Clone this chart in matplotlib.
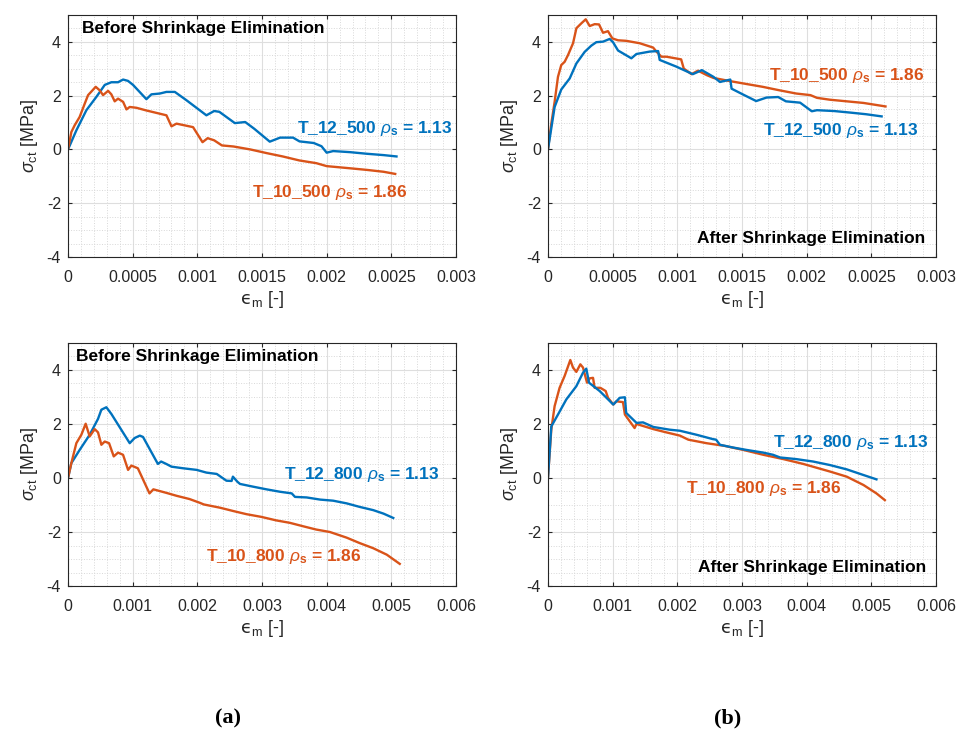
import numpy as np
import matplotlib
matplotlib.use('Agg')
import matplotlib.pyplot as plt
from matplotlib.ticker import MultipleLocator

plt.rcParams['font.family'] = ['Liberation Sans', 'DejaVu Sans']
plt.rcParams['mathtext.fontset'] = 'custom'
plt.rcParams['mathtext.rm'] = 'Liberation Sans'
plt.rcParams['mathtext.it'] = 'Liberation Sans:italic'
plt.rcParams['mathtext.bf'] = 'Liberation Sans:bold'
plt.rcParams['mathtext.sf'] = 'DejaVu Sans'
plt.rcParams['mathtext.fallback'] = 'stixsans'

BLUE = '#0072BD'
ORANGE = '#D95319'

# (a) top: before shrinkage elimination, 500 series
a500_blue_x = [0, 0.0000645, 0.000142, 0.00022, 0.000284, 0.000335, 0.000387, 0.000426, 0.000464,
               0.000503, 0.000606, 0.000645, 0.00071, 0.000761, 0.000826, 0.000916, 0.00107, 0.00113,
               0.00117, 0.00129, 0.00137, 0.00144, 0.00156, 0.00164, 0.00174, 0.00179, 0.0019,
               0.00196, 0.002, 0.00205, 0.00218, 0.00231, 0.00244, 0.00254]
a500_blue_y = [0, 0.71, 1.46, 1.96, 2.4, 2.5, 2.5, 2.6, 2.55, 2.4, 1.87, 2.05, 2.08, 2.14, 2.14, 1.83,
               1.27, 1.43, 1.4, 0.98, 1.02, 0.77, 0.29, 0.44, 0.44, 0.3, 0.24, 0.12, -0.12, -0.06,
               -0.1, -0.16, -0.21, -0.26]
a500_orange_x = [0, 0.000026, 0.0000516, 0.00009, 0.000129, 0.000155, 0.00018, 0.000214, 0.000245,
                 0.000271, 0.00031, 0.000335, 0.000361, 0.000387, 0.000426, 0.000452, 0.000477,
                 0.000529, 0.000606, 0.000761, 0.0008, 0.000839, 0.000967, 0.00104, 0.00108, 0.00113,
                 0.00119, 0.00128, 0.00141, 0.00154, 0.00166, 0.00179, 0.00192, 0.002, 0.00218,
                 0.00231, 0.00244, 0.00253]
a500_orange_y = [0, 0.65, 0.9, 1.21, 1.7, 2.02, 2.15, 2.33, 2.2, 2.02, 2.18, 2.05, 1.79, 1.89, 1.77,
                 1.49, 1.58, 1.55, 1.45, 1.27, 0.86, 0.96, 0.83, 0.27, 0.42, 0.34, 0.15, 0.11, 0.0,
                 -0.14, -0.26, -0.41, -0.51, -0.62, -0.7, -0.76, -0.83, -0.91]

# (b) top: after shrinkage elimination, 500 series
b500_orange_x = [0, 0.000026, 0.0000516, 0.0000774, 0.000103, 0.000129, 0.000155, 0.000194, 0.00022,
                 0.000258, 0.000292, 0.000323, 0.000361, 0.000395, 0.000426, 0.000464, 0.000498,
                 0.000542, 0.000606, 0.00071, 0.000813, 0.000839, 0.000877, 0.000916, 0.00103,
                 0.00105, 0.00111, 0.00116, 0.00123, 0.00128, 0.00141, 0.00154, 0.00166, 0.00179,
                 0.00192, 0.00203, 0.00208, 0.00218, 0.00231, 0.00244, 0.00261]
b500_orange_y = [0, 0.96, 1.77, 2.7, 3.14, 3.26, 3.51, 3.95, 4.51, 4.69, 4.84, 4.59, 4.66, 4.65, 4.34,
                 4.4, 4.13, 4.06, 4.04, 3.95, 3.79, 3.64, 3.45, 3.45, 3.35, 3.01, 2.8, 2.93, 2.76,
                 2.66, 2.54, 2.43, 2.33, 2.2, 2.08, 2.02, 1.92, 1.85, 1.79, 1.73, 1.6]
b500_blue_x = [0, 0.0000516, 0.000103, 0.000168, 0.00022, 0.000284, 0.000335, 0.000374, 0.000426,
               0.000477, 0.000503, 0.000542, 0.000645, 0.000684, 0.000787, 0.000852, 0.000864,
               0.000993, 0.00112, 0.00119, 0.00128, 0.00133, 0.00141, 0.00142, 0.00151, 0.00161,
               0.00169, 0.00178, 0.00184, 0.00195, 0.00204, 0.00208, 0.00221, 0.00234, 0.00246,
               0.00258]
b500_blue_y = [0, 1.58, 2.23, 2.64, 3.2, 3.63, 3.86, 3.99, 4.01, 4.11, 3.99, 3.68, 3.39, 3.55, 3.64,
               3.66, 3.33, 3.08, 2.8, 2.95, 2.7, 2.51, 2.6, 2.26, 2.04, 1.8, 1.93, 1.95, 1.79, 1.74,
               1.42, 1.46, 1.43, 1.37, 1.31, 1.23]

# (a) bottom: before shrinkage elimination, 800 series
a800_blue_x = [0, 0.0000516, 0.00018, 0.000335, 0.000464, 0.000516, 0.000593, 0.000671, 0.000954,
               0.00103, 0.00111, 0.00116, 0.00139, 0.00144, 0.00152, 0.0016, 0.00178, 0.00199,
               0.00214, 0.0023, 0.00245, 0.00253, 0.00255, 0.00262, 0.00266, 0.00286, 0.00307,
               0.00328, 0.00346, 0.00351, 0.00369, 0.0039, 0.0041, 0.00431, 0.00451, 0.00472,
               0.00488, 0.00503]
a800_blue_y = [0, 0.55, 1.04, 1.6, 2.19, 2.53, 2.62, 2.37, 1.29, 1.48, 1.57, 1.52, 0.52, 0.61, 0.52,
               0.42, 0.36, 0.3, 0.2, 0.15, -0.1, -0.11, 0.05, -0.14, -0.22, -0.32, -0.42, -0.51,
               -0.57, -0.7, -0.72, -0.8, -0.84, -0.94, -1.07, -1.19, -1.32, -1.48]
a800_orange_x = [0, 0.0000516, 0.000129, 0.000206, 0.000273, 0.000335, 0.000413, 0.000464, 0.000516,
                 0.000568, 0.000635, 0.000707, 0.000774, 0.000851, 0.000929, 0.00098, 0.00108,
                 0.00126, 0.00132, 0.00152, 0.00168, 0.00188, 0.00204, 0.0021, 0.00235, 0.00255,
                 0.00276, 0.00299, 0.00322, 0.00343, 0.00364, 0.00384, 0.00405, 0.00431, 0.00451,
                 0.00472, 0.00493, 0.00513]
a800_orange_y = [0, 0.55, 1.29, 1.6, 2.01, 1.54, 1.81, 1.69, 1.23, 1.35, 1.29, 0.8, 0.94, 0.86, 0.3,
                 0.46, 0.36, -0.57, -0.42, -0.55, -0.66, -0.78, -0.92, -0.98, -1.1, -1.22, -1.34,
                 -1.44, -1.57, -1.66, -1.79, -1.91, -2.0, -2.21, -2.41, -2.6, -2.84, -3.18]

# (b) bottom: after shrinkage elimination, 800 series
b800_orange_x = [0, 0.0000516, 0.000103, 0.00018, 0.000258, 0.000346, 0.000387, 0.000439, 0.000501,
                 0.000542, 0.000604, 0.000645, 0.000697, 0.000722, 0.00081, 0.000893, 0.000929,
                 0.00101, 0.00106, 0.00116, 0.00119, 0.00134, 0.00137, 0.00163, 0.00183, 0.00204,
                 0.00217, 0.00245, 0.00273, 0.00302, 0.00333, 0.00364, 0.00395, 0.00436, 0.00462,
                 0.00488, 0.00508, 0.00521]
b800_orange_y = [0, 1.79, 2.66, 3.34, 3.78, 4.37, 4.09, 3.93, 4.21, 4.09, 3.53, 3.69, 3.71, 3.34,
                 3.34, 3.22, 2.97, 2.72, 2.84, 2.81, 2.35, 1.85, 2.0, 1.81, 1.69, 1.57, 1.42, 1.29,
                 1.19, 1.04, 0.86, 0.7, 0.52, 0.24, 0.05, -0.26, -0.57, -0.82]
b800_blue_x = [0, 0.0000516, 0.000155, 0.000284, 0.000439, 0.000542, 0.000593, 0.000635, 0.0008,
               0.00101, 0.00111, 0.00119, 0.00121, 0.00137, 0.00147, 0.00163, 0.00188, 0.00204,
               0.0023, 0.00255, 0.0026, 0.00266, 0.00286, 0.00307, 0.00333, 0.00348, 0.00359,
               0.00384, 0.0041, 0.00436, 0.00462, 0.00488, 0.00508]
b800_blue_y = [0, 1.91, 2.35, 2.91, 3.4, 3.9, 4.05, 3.53, 3.22, 2.72, 2.97, 2.99, 2.41, 2.04, 2.06,
               1.89, 1.79, 1.75, 1.6, 1.44, 1.42, 1.23, 1.13, 1.04, 0.94, 0.86, 0.76, 0.7, 0.61,
               0.48, 0.32, 0.11, -0.05]


def tick_fmt(v, pos):
    if v == 0:
        return '0'
    return ('%.4f' % v).rstrip('0')


def style_axes(ax, xmax, xmajor, xminor):
    ax.set_xlim(0, xmax)
    ax.set_ylim(-4, 5)
    ax.xaxis.set_major_locator(MultipleLocator(xmajor))
    ax.xaxis.set_minor_locator(MultipleLocator(xminor))
    ax.yaxis.set_minor_locator(MultipleLocator(0.5))
    ax.set_yticks([-4, -2, 0, 2, 4])
    ax.xaxis.set_major_formatter(plt.FuncFormatter(tick_fmt))
    ax.yaxis.set_major_formatter(plt.FuncFormatter(lambda v, p: '%g' % v))
    ax.grid(True, which='major', color='#dedede', lw=0.8)
    ax.grid(True, which='minor', color='#d8d8d8', lw=0.7, linestyle=':')
    ax.tick_params(which='both', direction='in', top=True, right=True, colors='#262626',
                   labelsize=11.5, length=3)
    ax.tick_params(axis='x', pad=9)
    ax.tick_params(axis='y', pad=5)
    ax.tick_params(which='minor', length=0)
    for s in ax.spines.values():
        s.set_color('#262626')
        s.set_linewidth(0.8)
    ax.set_axisbelow(True)
    # lunate epsilon as in the source figure
    ax.set_xlabel('$\\mathsf{\u03f5}_\\mathrm{m}$ [-]', fontsize=13, color='#262626', labelpad=3)
    ax.set_ylabel(r'$\sigma_\mathrm{ct}$ [MPa]', fontsize=13, color='#262626', labelpad=5)


fig = plt.figure(figsize=(9.62, 7.4), dpi=100)
ax1 = fig.add_axes([0.0707, 0.6527, 0.4033, 0.327])
ax2 = fig.add_axes([0.5696, 0.6527, 0.4033, 0.327])
ax3 = fig.add_axes([0.0707, 0.2081, 0.4033, 0.3284])
ax4 = fig.add_axes([0.5696, 0.2081, 0.4033, 0.3284])

lw = 1.7
txt = dict(fontsize=12.5, fontweight='bold')

# (a) top
ax1.plot(a500_blue_x, a500_blue_y, color=BLUE, lw=lw)
ax1.plot(a500_orange_x, a500_orange_y, color=ORANGE, lw=lw)
ax1.text(0.000108, 4.49, 'Before Shrinkage Elimination', va='center', ha='left', color='black', **txt)
ax1.text(0.00297, 0.78, r'T_12_500 $\rho_\mathbf{s}$ = 1.13', va='center', ha='right', color=BLUE, **txt)
ax1.text(0.00262, -1.6, r'T_10_500 $\rho_\mathbf{s}$ = 1.86', va='center', ha='right', color=ORANGE, **txt)
style_axes(ax1, 0.003, 0.0005, 0.0001)

# (b) top
ax2.plot(b500_orange_x, b500_orange_y, color=ORANGE, lw=lw)
ax2.plot(b500_blue_x, b500_blue_y, color=BLUE, lw=lw)
ax2.text(0.00292, -3.33, 'After Shrinkage Elimination', va='center', ha='right', color='black', **txt)
ax2.text(0.00291, 2.74, r'T_10_500 $\rho_\mathbf{s}$ = 1.86', va='center', ha='right', color=ORANGE, **txt)
ax2.text(0.00286, 0.71, r'T_12_500 $\rho_\mathbf{s}$ = 1.13', va='center', ha='right', color=BLUE, **txt)
style_axes(ax2, 0.003, 0.0005, 0.0001)

# (a) bottom
ax3.plot(a800_blue_x, a800_blue_y, color=BLUE, lw=lw)
ax3.plot(a800_orange_x, a800_orange_y, color=ORANGE, lw=lw)
ax3.text(0.000119, 4.5, 'Before Shrinkage Elimination', va='center', ha='left', color='black', **txt)
ax3.text(0.00574, 0.14, r'T_12_800 $\rho_\mathbf{s}$ = 1.13', va='center', ha='right', color=BLUE, **txt)
ax3.text(0.00454, -2.9, r'T_10_800 $\rho_\mathbf{s}$ = 1.86', va='center', ha='right', color=ORANGE, **txt)
style_axes(ax3, 0.006, 0.001, 0.0002)

# (b) bottom
ax4.plot(b800_orange_x, b800_orange_y, color=ORANGE, lw=lw)
ax4.plot(b800_blue_x, b800_blue_y, color=BLUE, lw=lw)
ax4.text(0.00585, -3.3, 'After Shrinkage Elimination', va='center', ha='right', color='black', **txt)
ax4.text(0.00588, 1.32, r'T_12_800 $\rho_\mathbf{s}$ = 1.13', va='center', ha='right', color=BLUE, **txt)
ax4.text(0.00454, -0.39, r'T_10_800 $\rho_\mathbf{s}$ = 1.86', va='center', ha='right', color=ORANGE, **txt)
style_axes(ax4, 0.006, 0.001, 0.0002)

# panel captions
fig.text(228 / 962, 1 - 718 / 740, '(a)', ha='center', va='center', fontsize=16,
         family='Liberation Serif', fontweight='bold')
fig.text(728 / 962, 1 - 718 / 740, '(b)', ha='center', va='center', fontsize=16,
         family='Liberation Serif', fontweight='bold')

fig.savefig('out.png', dpi=100)
